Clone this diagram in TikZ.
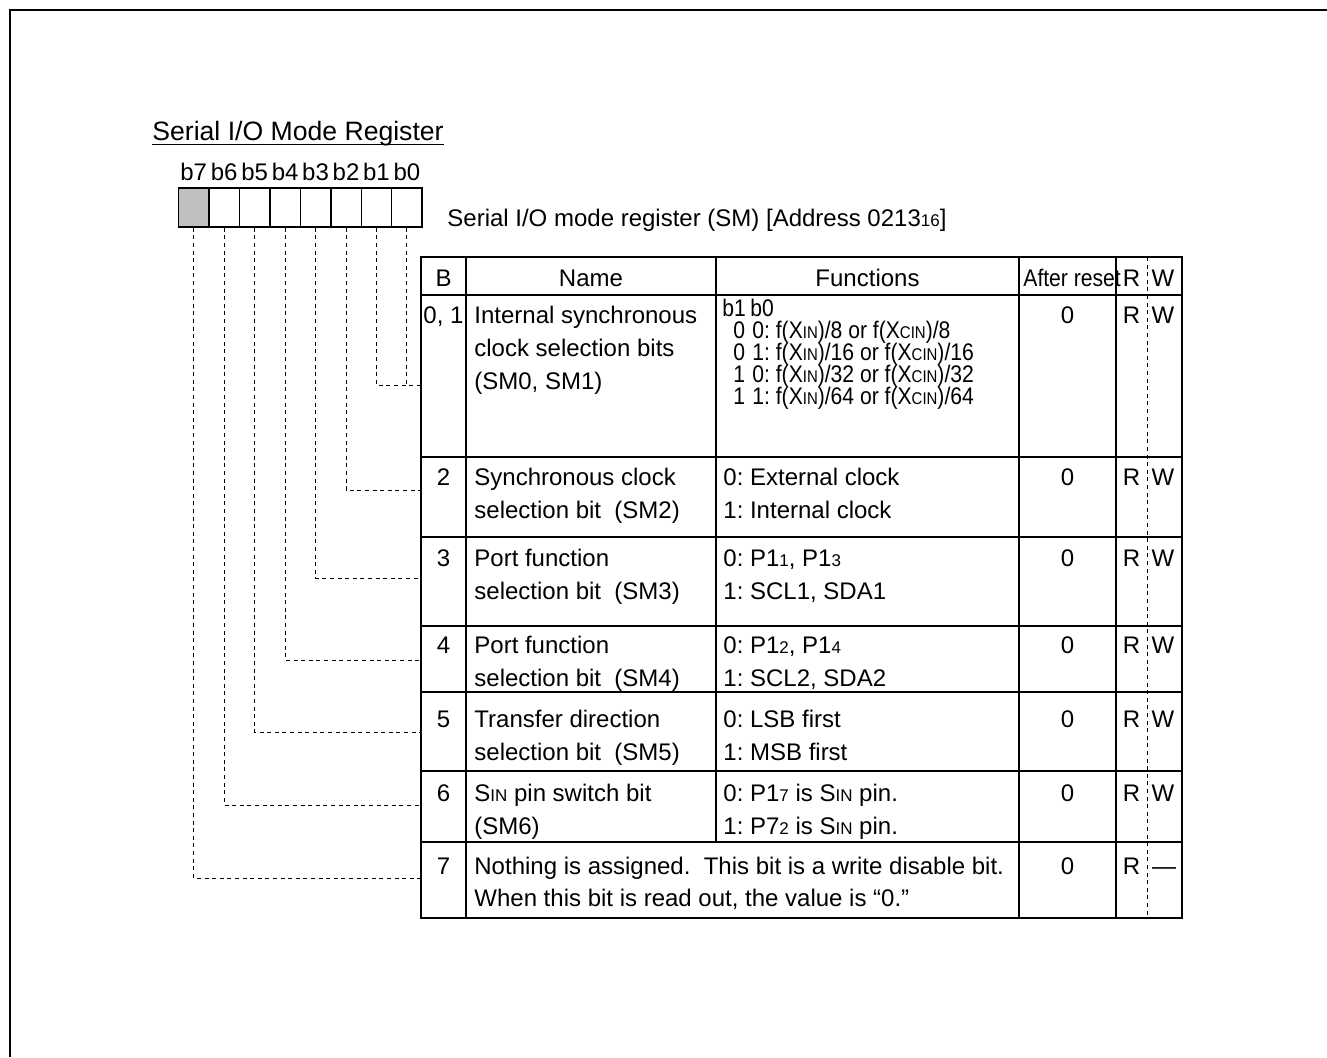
\documentclass[tikz,border=0pt]{standalone}
\usepackage{fontspec}
\setmainfont{Liberation Sans}
\newfontfamily\narrowfont{Liberation Sans}[FakeStretch=0.88]
\usetikzlibrary{positioning}
\newcommand\lowsz[1]{{\fontsize{8.5}{8.5}\selectfont #1}}
\frenchspacing

\begin{document}
\begin{tikzpicture}[x=0.5pt, y=-0.5pt,
    txt/.style={anchor=base west, inner sep=0pt, font=\fontsize{12}{14}\selectfont},
    ctxt/.style={txt, anchor=base},
    ftxt/.style={txt, font=\narrowfont\fontsize{12}{14}\selectfont},
    bitbox/.style={draw, line width=0.7pt, minimum width=15.2pt,
      minimum height=19.5pt, inner sep=0pt},
    guide/.style={line width=0.5pt, dash pattern=on 2pt off 1.8pt},
    rule/.style={line width=1.1pt}]

  \useasboundingbox (0,0) rectangle (1327,1057);
  \draw[line width=1.25pt] (10,1057) -- (10,10) -- (1327,10);

  \node[txt, font=\fontsize{13.3}{15}\selectfont] (title) at (152,140) {Serial I/O Mode Register};
  \draw[line width=0.7pt] ([yshift=-2.2pt]title.base west) -- ([yshift=-2.2pt]title.base east);

  \foreach \i/\col in {0/white,1/white,2/white,3/white,4/white,5/white,6/white,7/black!25} {
    \node[bitbox, fill=\col] (b\i) at ({406.9-30.45*\i},207.5) {};
    \node[txt, above=3.2pt of b\i] (l\i) {b\i};
  }
  \node[txt] (regname) at (447,226) {Serial I/O mode register (SM) [Address 0213\lowsz{16}]};

  \draw[line width=0.65pt] (421,257) rectangle (1182,918);
  \draw[rule] (421,295) -- (1182,295);
  \foreach \y in {457,537,626,692,771,842}
    \draw[rule] (421,\y) -- (1182,\y);
  \draw[rule] (466,257) -- (466,918);
  \draw[rule] (716,257) -- (716,842);
  \draw[rule] (1019,257) -- (1019,918);
  \draw[rule] (1116,257) -- (1116,918);
  \draw[guide] (1147,257) -- (1147,918);

  \node[ctxt] (hb) at (443.5,286) {B};
  \node[ctxt] (hname) at (591,286) {Name};
  \node[ctxt] (hfunc) at (867.5,286) {Functions};
  \node[txt, font=\narrowfont\fontsize{12}{14}\selectfont] (hreset) at (1023,286) {After reset};
  \node[ctxt] (hr) at (1131.5,286) {R};
  \node[ctxt] (hw) at (1163,286) {W};

  \node[txt] (bn1) at (423,323) {0, 1};
  \node[txt] (nma1) at (474,323) {Internal synchronous};
  \node[txt] (nmb1) at (474,356) {clock selection bits};
  \node[txt] (nmc1) at (474,389) {(SM0, SM1)};
  \node[ftxt] (fh1) at (722,316) {b1};
  \node[ftxt] (fh0) at (750,316) {b0};
  \foreach \k/\pa/\pb/\dv in {0/0/0/8,1/0/1/16,2/1/0/32,3/1/1/64} {
    \node[ftxt] (fp\k) at (733,338+22*\k) {\pa};
    \node[ftxt] (fq\k) at (752,338+22*\k) {\pb: f(X\lowsz{IN})/\dv\ or f(X\lowsz{CIN})/\dv};
  }
  \node[ctxt] (rs1) at (1067.5,323) {0};
  \node[ctxt] (rr1) at (1131.5,323) {R};
  \node[ctxt] (rw1) at (1163,323) {W};

  \foreach \row/\y/\nma/\nmb/\fna/\fnb in {
      2/485/Synchronous clock/selection bit~ (SM2)/0: External clock/1: Internal clock,
      3/566/Port function/selection bit~ (SM3)/{0: P1\lowsz{1}, P1\lowsz{3}}/{1: SCL1, SDA1},
      4/653/Port function/selection bit~ (SM4)/{0: P1\lowsz{2}, P1\lowsz{4}}/{1: SCL2, SDA2},
      5/727/Transfer direction/selection bit~ (SM5)/0: LSB first/1: MSB first,
      6/801/S\lowsz{IN} pin switch bit/(SM6)/0: P1\lowsz{7} is S\lowsz{IN} pin./1: P7\lowsz{2} is S\lowsz{IN} pin.} {
    \node[ctxt] (bn\row) at (443.5,\y) {\row};
    \node[txt] (nma\row) at (474,\y) {\nma};
    \node[txt] (nmb\row) at (474,\y+33) {\nmb};
    \node[txt] (fna\row) at (723,\y) {\fna};
    \node[txt] (fnb\row) at (723,\y+33) {\fnb};
    \node[ctxt] (rs\row) at (1067.5,\y) {0};
    \node[ctxt] (rr\row) at (1131.5,\y) {R};
    \node[ctxt] (rw\row) at (1163,\y) {W};
  }

  \node[ctxt] (bn7) at (443.5,874) {7};
  \node[txt] (nma7) at (474,874) {Nothing is assigned.~ This bit is a write disable bit.};
  \node[txt] (nmb7) at (474,906) {When this bit is read out, the value is “0.”};
  \node[ctxt] (rs7) at (1067.5,874) {0};
  \node[ctxt] (rr7) at (1131.5,874) {R};
  \node[ctxt] (rw7) at (1164,874) {—};

  \foreach \i/\y in {1/385,2/490,3/578,4/660,5/732,6/805,7/878}
    \coordinate (e\i) at (421,\y);
  \draw[guide] (b0.south) -- (b0.south |- e1);
  \foreach \i in {1,...,7}
    \draw[guide] (b\i.south) |- (e\i);
\end{tikzpicture}
\end{document}
